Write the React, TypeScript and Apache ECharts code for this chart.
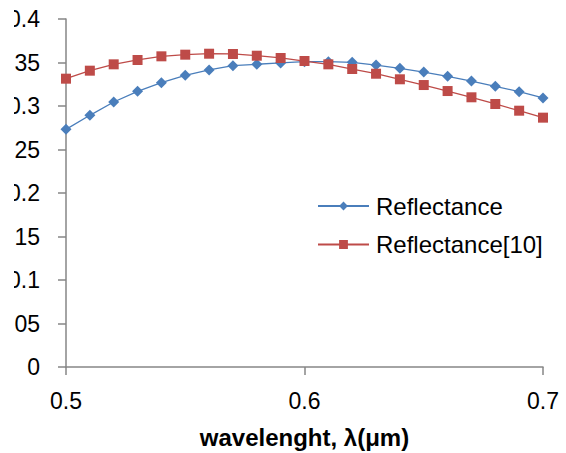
import React, { useEffect, useRef } from "react";
import * as echarts from "echarts";

const wavelengths = [0.5, 0.51, 0.52, 0.53, 0.54, 0.55, 0.56, 0.57, 0.58, 0.59, 0.6, 0.61, 0.62, 0.63, 0.64, 0.65, 0.66, 0.67, 0.68, 0.69, 0.7];
const reflectance = [0.2732, 0.2893, 0.3046, 0.3169, 0.3268, 0.3353, 0.3414, 0.3463, 0.348, 0.3495, 0.351, 0.351, 0.3502, 0.3471, 0.3433, 0.339, 0.3341, 0.3287, 0.3226, 0.3165, 0.3092];
const reflectance10 = [0.3314, 0.3406, 0.3479, 0.3529, 0.3571, 0.359, 0.3601, 0.3598, 0.3578, 0.3552, 0.3517, 0.3479, 0.3425, 0.3371, 0.3307, 0.3241, 0.3172, 0.31, 0.3023, 0.2946, 0.2866];
const seriesNames = ["Reflectance", "Reflectance[10]"];
const xAxisTitle = "wavelenght, λ(μm)";

const FONT = "Liberation Sans";
const AXIS_COLOR = "#868686";

export default function App() {
  const ref = useRef<HTMLDivElement>(null);
  useEffect(() => {
    if (!ref.current) return;
    const chart = echarts.init(ref.current, null, { renderer: "svg" });
    chart.setOption({
      animation: false,
      backgroundColor: "#ffffff",
      grid: { left: 52, right: 23, top: 19, bottom: 86, containLabel: false, outerBoundsMode: "none" },
      legend: {
        orient: "vertical",
        left: 298,
        top: 189,
        itemWidth: 51,
        itemHeight: 11,
        itemGap: 14.5,
        textStyle: { fontFamily: FONT, fontSize: 24, color: "#000", lineHeight: 24, padding: [0, 0, 0, 2] },
        data: seriesNames,
      },
      xAxis: {
        type: "value",
        min: 0.5,
        max: 0.7,
        interval: 0.1,
        name: xAxisTitle,
        nameLocation: "middle",
        nameGap: 58,
        nameTextStyle: { fontFamily: FONT, fontSize: 24, fontWeight: "bold", color: "#000" },
        axisLine: { show: true, lineStyle: { color: AXIS_COLOR, width: 1.5 } },
        axisTick: { show: true, inside: false, length: 8, lineStyle: { color: AXIS_COLOR, width: 1.5 } },
        axisLabel: { fontFamily: FONT, fontSize: 23, color: "#000", margin: 22 },
        splitLine: { show: false },
      },
      yAxis: {
        type: "value",
        min: 0,
        max: 0.4,
        interval: 0.05,
        axisLine: { show: true, lineStyle: { color: AXIS_COLOR, width: 1.5 } },
        axisTick: { show: true, inside: false, length: 8, lineStyle: { color: AXIS_COLOR, width: 1.5 } },
        axisLabel: { fontFamily: FONT, fontSize: 23, color: "#000", margin: 26 },
        splitLine: { show: false },
      },
      series: [
        {
          name: seriesNames[0],
          type: "line",
          data: wavelengths.map((w, i) => [w, reflectance[i]]),
          symbol: "diamond",
          symbolSize: 11,
          color: "#4A7EBB",
          itemStyle: { color: "#4A7EBB" },
          lineStyle: { color: "#4A7EBB", width: 1.3 },
        },
        {
          name: seriesNames[1],
          type: "line",
          data: wavelengths.map((w, i) => [w, reflectance10[i]]),
          symbol: "rect",
          symbolSize: 10,
          color: "#BE4B48",
          itemStyle: { color: "#BE4B48" },
          lineStyle: { color: "#BE4B48", width: 1.3 },
        },
      ],
    });
    return () => chart.dispose();
  }, []);
  return (
    <div
      ref={ref}
      style={{ position: "absolute", left: 14, top: 0, width: 552, height: 453, overflow: "hidden" }}
    />
  );
}
